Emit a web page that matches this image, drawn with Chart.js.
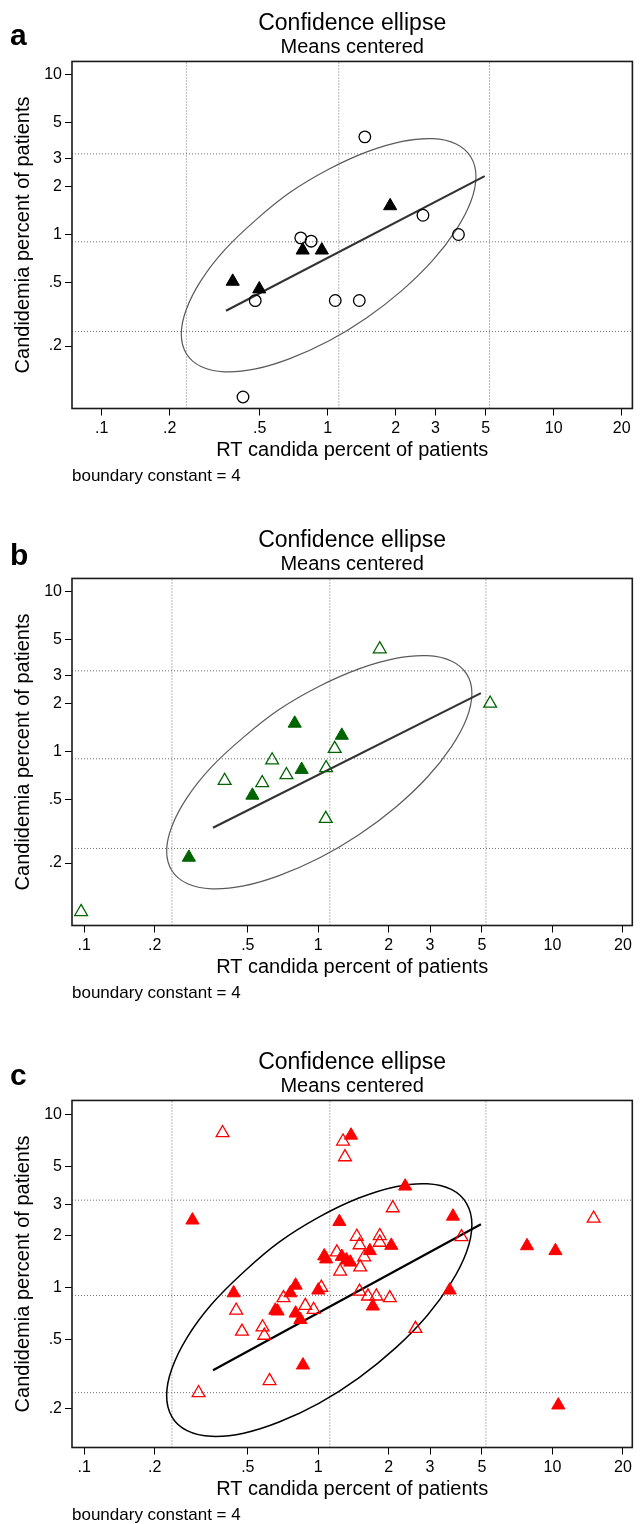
<!DOCTYPE html>
<html>
<head>
<meta charset="utf-8">
<script src="https://cdn.jsdelivr.net/npm/chart.js@4.4.1/dist/chart.umd.min.js"></script>
<style>
html, body { margin: 0; padding: 0; background: #fff; }
body { width: 641px; height: 1524px; position: relative; overflow: hidden; }
canvas { position: absolute; left: 0; }
</style>
</head>
<body>
<canvas id="chartA" width="641" height="485" style="top:0px"></canvas>
<canvas id="chartB" width="641" height="485" style="top:517px"></canvas>
<canvas id="chartC" width="641" height="485" style="top:1039px"></canvas>
<script>
// axis ticks (log scales)
const xTicks = [0.1, 0.2, 0.5, 1, 2, 3, 5, 10, 20];
const yTicks = [0.2, 0.5, 1, 2, 3, 5, 10];

// dotted reference lines
const refX = [0.237, 1.12, 5.2];
const refY = [3.2, 0.9, 0.247];

// fitted line, same in every panel
const fitX = [0.355, 4.95];
const fitY = [0.333, 2.32];

// confidence ellipse outline, last point closes the loop
const ellipseX = [0.68, 0.48, 0.35, 0.275, 0.237, 0.225, 0.237, 0.275, 0.35, 0.48, 0.68, 1.01, 1.49, 2.14, 2.92, 3.7, 4.3, 4.53, 4.3, 3.7, 2.92, 2.14, 1.49, 1.01, 0.68];
const ellipseY = [1.83, 1.23, 0.80, 0.514, 0.34, 0.238, 0.179, 0.149, 0.138, 0.144, 0.167, 0.215, 0.301, 0.448, 0.69, 1.07, 1.61, 2.31, 3.06, 3.69, 3.98, 3.83, 3.29, 2.56, 1.83];

// panel a
const aCircleX = [1.46, 2.64, 3.79, 0.76, 0.845, 0.478, 1.08, 1.38, 0.422];
const aCircleY = [4.09, 1.32, 1.0, 0.953, 0.908, 0.385, 0.386, 0.386, 0.096];
const aFilledX = [1.89, 0.775, 0.942, 0.38, 0.498];
const aFilledY = [1.51, 0.797, 0.797, 0.508, 0.455];

// panel b
const bFilledX = [0.793, 1.26, 0.849, 0.523, 0.28];
const bFilledY = [1.5, 1.26, 0.77, 0.531, 0.217];
const bHollowX = [1.83, 5.42, 1.175, 0.635, 1.08, 0.731, 0.398, 0.576, 1.076, 0.097];
const bHollowY = [4.38, 2.0, 1.04, 0.882, 0.789, 0.713, 0.657, 0.636, 0.379, 0.099];

// panel c
const cFilledX = [0.29, 1.38, 2.35, 1.23, 3.76, 7.79, 10.3, 2.05, 1.66, 1.06, 1.08, 1.26, 1.32, 1.37, 0.8, 0.76, 1.0, 0.435, 3.64, 1.71, 0.655, 0.67, 0.8, 0.838, 0.86, 10.6];
const cFilledY = [2.45, 7.58, 3.85, 2.4, 2.58, 1.74, 1.63, 1.75, 1.63, 1.52, 1.46, 1.51, 1.44, 1.4, 1.03, 0.93, 0.965, 0.93, 0.965, 0.78, 0.738, 0.73, 0.71, 0.652, 0.356, 0.209];
const cHollowX = [0.39, 1.275, 1.3, 2.08, 4.09, 15.0, 1.46, 1.83, 1.5, 1.83, 1.57, 1.2, 1.24, 1.51, 1.03, 1.5, 1.63, 1.77, 2.02, 0.71, 0.88, 0.955, 0.446, 0.472, 0.578, 0.588, 2.6, 0.619, 0.308];
const cHollowY = [7.83, 7.0, 5.68, 2.88, 1.96, 2.51, 1.97, 1.99, 1.76, 1.82, 1.5, 1.6, 1.24, 1.31, 1.0, 0.95, 0.89, 0.89, 0.87, 0.87, 0.785, 0.745, 0.738, 0.557, 0.59, 0.528, 0.578, 0.289, 0.246];

const fam = '"Liberation Sans", Arial, Helvetica, sans-serif';
Chart.defaults.font.family = fam;
Chart.defaults.color = '#000';

function tickLabel(v) {
    return v < 1 ? String(v).replace(/^0/, '') : String(v);
}

function pairs(xs, ys) {
    return xs.map((x, i) => ({ x: x, y: ys[i] }));
}

// closed loop: one extra point on each end so the curve is smooth where it joins,
// the two extra segments are not drawn
function loopPoints(xs, ys) {
    const n = xs.length;
    const pts = pairs(xs, ys);
    return [pts[n - 2]].concat(pts, [pts[1]]);
}

// frame, panel letter and the note under the axis
const panelDecor = {
    id: 'panelDecor',
    afterDatasetsDraw(chart, args, opts) {
        const ctx = chart.ctx;
        const a = chart.chartArea;
        ctx.save();
        ctx.strokeStyle = '#1a1a1a';
        ctx.lineWidth = 1.6;
        ctx.strokeRect(a.left, a.top, a.right - a.left, a.bottom - a.top);
        ctx.fillStyle = '#000';
        ctx.textBaseline = 'alphabetic';
        ctx.textAlign = 'left';
        ctx.font = 'bold 30px ' + fam;
        ctx.fillText(opts.letter, 10, opts.letterY);
        ctx.font = '17px ' + fam;
        ctx.fillText('boundary constant = 4', 72, 481);
        ctx.restore();
    }
};

function buildPanel(id, p) {
    const datasets = [];
    p.markers.forEach(m => {
        datasets.push({
            data: pairs(m.x, m.y),
            showLine: false,
            pointStyle: m.shape,
            pointRadius: m.r,
            borderWidth: m.filled ? 1 : 1.3,
            borderColor: p.color,
            backgroundColor: m.filled ? p.color : 'rgba(0,0,0,0)',
            order: 0
        });
    });
    datasets.push({
        data: pairs(fitX, fitY),
        showLine: true,
        borderColor: p.fitColor,
        borderWidth: 2.2,
        pointRadius: 0,
        order: 1
    });
    const loop = loopPoints(ellipseX, ellipseY);
    datasets.push({
        data: loop,
        showLine: true,
        tension: 0.35,
        borderColor: p.ellipseColor,
        borderWidth: p.ellipseWidth,
        pointRadius: 0,
        segment: {
            borderColor: c => (c.p0DataIndex === 0 || c.p1DataIndex === loop.length - 1) ? 'rgba(0,0,0,0)' : p.ellipseColor
        },
        order: 2
    });
    refX.forEach(v => {
        datasets.push({
            data: [{ x: v, y: p.yRange[0] }, { x: v, y: p.yRange[1] }],
            showLine: true, borderColor: '#707070', borderWidth: 1, borderDash: [1, 2],
            pointRadius: 0, order: 3
        });
    });
    refY.forEach(v => {
        datasets.push({
            data: [{ x: p.xRange[0], y: v }, { x: p.xRange[1], y: v }],
            showLine: true, borderColor: '#707070', borderWidth: 1, borderDash: [1, 2],
            pointRadius: 0, order: 3
        });
    });

    new Chart(document.getElementById(id), {
        type: 'scatter',
        data: { datasets: datasets },
        options: {
            responsive: false,
            animation: false,
            devicePixelRatio: 1,
            events: [],
            layout: { padding: { top: 0, left: 0, right: 1, bottom: 22.5 } },
            plugins: {
                legend: { display: false },
                tooltip: { enabled: false },
                title: {
                    display: true,
                    text: 'Confidence ellipse',
                    fullSize: false,
                    color: '#000',
                    font: { size: 23, weight: 'normal', lineHeight: 1.15 },
                    padding: { top: 10, bottom: 0 }
                },
                subtitle: {
                    display: true,
                    text: 'Means centered',
                    fullSize: false,
                    color: '#000',
                    font: { size: 20, weight: 'normal', lineHeight: 1.0 },
                    padding: { top: 1, bottom: 4 }
                },
                panelDecor: { letter: p.letter, letterY: p.letterY }
            },
            scales: {
                x: {
                    type: 'logarithmic',
                    min: p.xRange[0],
                    max: p.xRange[1],
                    afterBuildTicks: s => { s.ticks = xTicks.map(v => ({ value: v })); },
                    afterFit: s => { s.height = 54; },
                    ticks: {
                        callback: v => tickLabel(v),
                        autoSkip: false, maxRotation: 0, minRotation: 0,
                        padding: 3, color: '#000', font: { size: 16 }
                    },
                    grid: { drawOnChartArea: false, drawTicks: true, tickLength: 7, tickColor: '#000', tickWidth: 1 },
                    border: { display: false },
                    title: {
                        display: true, text: 'RT candida percent of patients', color: '#000',
                        font: { size: 20 }, padding: { top: 0, bottom: 0 }
                    }
                },
                y: {
                    type: 'logarithmic',
                    min: p.yRange[0],
                    max: p.yRange[1],
                    afterBuildTicks: s => { s.ticks = yTicks.map(v => ({ value: v })); },
                    afterFit: s => { s.width = 72; },
                    ticks: {
                        callback: v => tickLabel(v),
                        autoSkip: false, padding: 3, color: '#000', font: { size: 16 }
                    },
                    grid: { drawOnChartArea: false, drawTicks: true, tickLength: 7, tickColor: '#000', tickWidth: 1 },
                    border: { display: false },
                    title: {
                        display: true, text: 'Candidemia percent of patients', color: '#000',
                        font: { size: 20 }, padding: { top: 11, bottom: 0 }
                    }
                }
            }
        },
        plugins: [panelDecor]
    });
}

buildPanel('chartA', {
    letter: 'a', letterY: 45,
    xRange: [0.0739, 22.3], yRange: [0.0813, 12.13],
    color: '#000', fitColor: '#333', ellipseColor: '#5a5a5a', ellipseWidth: 1.2,
    markers: [
        { x: aCircleX, y: aCircleY, shape: 'circle', r: 5.8, filled: false },
        { x: aFilledX, y: aFilledY, shape: 'triangle', r: 7.6, filled: true }
    ]
});

buildPanel('chartB', {
    letter: 'b', letterY: 48,
    xRange: [0.0887, 21.94], yRange: [0.0813, 12.13],
    color: '#006400', fitColor: '#333', ellipseColor: '#5a5a5a', ellipseWidth: 1.2,
    markers: [
        { x: bHollowX, y: bHollowY, shape: 'triangle', r: 7.4, filled: false },
        { x: bFilledX, y: bFilledY, shape: 'triangle', r: 7.6, filled: true }
    ]
});

buildPanel('chartC', {
    letter: 'c', letterY: 46,
    xRange: [0.0887, 21.94], yRange: [0.119, 12.06],
    color: '#ff0000', fitColor: '#000', ellipseColor: '#000', ellipseWidth: 1.5,
    markers: [
        { x: cHollowX, y: cHollowY, shape: 'triangle', r: 7.4, filled: false },
        { x: cFilledX, y: cFilledY, shape: 'triangle', r: 7.6, filled: true }
    ]
});
</script>
</body>
</html>
